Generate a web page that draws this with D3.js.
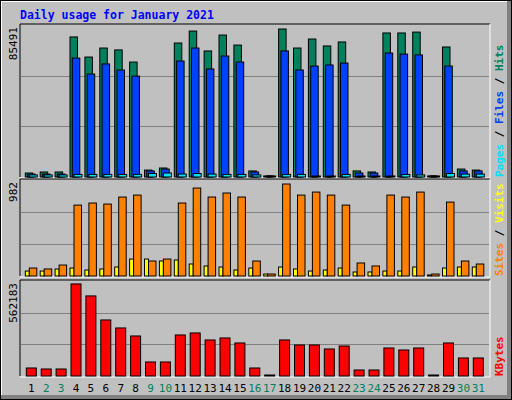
<!DOCTYPE html>
<html><head><meta charset="utf-8">
<script src="https://cdn.jsdelivr.net/npm/d3@7"></script>
<style>body{margin:0;background:#fff}</style>
</head><body>
<div id="chart"></div>
<script>
// values
var days = d3.range(1, 32);
var weekend = [2,3,9,10,16,17,23,24,30,31];
var hits  = [2300,2900,2900,80900,69300,74500,73400,66400,4000,5200,77400,84300,72800,82000,76200,3500,600,85491,74500,79700,75700,78000,3500,2900,83200,83200,83700,600,75100,4600,4000];
var files = [1700,1700,1700,68700,59500,65300,61800,58300,3500,4600,67000,74500,62400,69900,66400,2900,600,72800,61800,64100,64700,65800,2300,2300,71600,71000,70500,600,64100,3500,3500];
var pages = [1200,1200,1200,1500,1500,1500,1500,1500,2000,2300,1700,2000,1700,1500,1500,1200,300,1500,1500,600,300,1500,300,300,600,1500,1200,300,2000,1700,1700];
var sites  = [85,75,117,757,779,768,843,864,160,181,779,939,843,886,843,160,21,982,864,896,864,757,139,107,864,843,896,21,789,160,128];
var visits = [53,53,75,85,64,75,96,181,181,160,171,128,107,96,64,85,21,96,75,53,64,85,43,43,53,53,96,11,85,96,96];
var kbytes = [48900,42800,42800,562183,488900,342200,293300,244400,85600,85600,250500,262800,220000,232200,201700,48900,6100,220000,189400,189400,165000,183300,36700,36700,171100,158900,171100,6100,201700,110000,110000];

var W = 512, H = 400;
var svg = d3.select("#chart").append("svg").attr("width", W).attr("height", H)
  .style("font-family", "'DejaVu Sans Mono', monospace");

// outer bevelled box
svg.append("rect").attr("width", W).attr("height", H).attr("fill", "#000");
svg.append("rect").attr("x", 1).attr("y", 1).attr("width", W - 2).attr("height", H - 2).attr("fill", "#808080");
svg.append("rect").attr("x", 1).attr("y", 1).attr("width", W - 6).attr("height", H - 6).attr("fill", "#fff");
svg.append("rect").attr("x", 2).attr("y", 2).attr("width", W - 7).attr("height", H - 7).attr("fill", "#c0c0c0");

svg.append("text").attr("x", 20).attr("y", 19).attr("fill", "#0000ff")
  .attr("font-weight", "bold").attr("font-size", 11.5).text("Daily usage for January 2021");

var x = d3.scaleLinear().domain([1, 31]).range([25.3, 25.3 + 30 * 14.9]);

function panel(top, bottom, maxVal, topLabel, series, rightParts) {
  var y = d3.scaleLinear().domain([0, maxVal]).range([bottom, top]);
  var g = svg.append("g");
  // inset frame
  g.append("path").attr("d", "M20," + bottom + "V" + (top - 1) + "H490").attr("stroke", "#000").attr("fill", "none");
  g.append("path").attr("d", "M20," + (bottom + 1) + "H490V" + (top - 1)).attr("stroke", "#fff").attr("fill", "none");
  var h = bottom - top;
  [1 / 3, 2 / 3].forEach(function (f) {
    g.append("line").attr("x1", 21).attr("x2", 489)
      .attr("y1", Math.round(bottom - h * f) + 0.5).attr("y2", Math.round(bottom - h * f) + 0.5)
      .attr("stroke", "#808080");
  });
  series.forEach(function (s) {
    g.selectAll(null).data(s.data).enter().append("rect")
      .attr("x", function (d, i) { return x(days[i]) + s.off; })
      .attr("width", s.w)
      .attr("y", function (d) { return Math.min(y(d), bottom - 1); })
      .attr("height", function (d) { return Math.max(bottom - y(d), 1); })
      .attr("fill", s.color).attr("stroke", "#000").attr("stroke-width", 1);
  });
  g.append("text").attr("transform", "translate(17," + (top + 2) + ") rotate(-90)")
    .attr("text-anchor", "end").attr("font-size", 11).attr("fill", "#000").text(topLabel);
  var t = g.append("text").attr("transform", "translate(503," + bottom + ") rotate(-90)")
    .attr("font-size", 11).attr("font-weight", "bold");
  rightParts.forEach(function (p) { t.append("tspan").attr("fill", p[1]).text(p[0]); });
}

panel(25, 177, 87800, "85491", [
  { data: hits, color: "#00805c", off: 0, w: 7.5 },
  { data: files, color: "#0040ff", off: 2.3, w: 7.5 },
  { data: pages, color: "#00e0ff", off: 4, w: 8 }
], [["Pages", "#00e0ff"], [" / ", "#000"], ["Files", "#0040ff"], [" / ", "#000"], ["Hits", "#00805c"]]);

panel(180, 276, 1025, "982", [
  { data: visits, color: "#ffff00", off: 0, w: 4 },
  { data: sites, color: "#ff8000", off: 4, w: 7.5 }
], [["Sites", "#ff8000"], [" / ", "#000"], ["Visits", "#ffff00"]]);

panel(281, 376, 580000, "562183", [
  { data: kbytes, color: "#ff0000", off: 1, w: 10 }
], [["KBytes", "#ff0000"]]);

svg.selectAll(".day").data(days).enter().append("text")
  .attr("x", function (d) { return x(d) + 6; }).attr("y", 392)
  .attr("text-anchor", "middle").attr("font-size", 11)
  .attr("fill", function (d) { return weekend.indexOf(d) >= 0 ? "#00805c" : "#000"; })
  .text(function (d) { return d; });
</script>
</body></html>
